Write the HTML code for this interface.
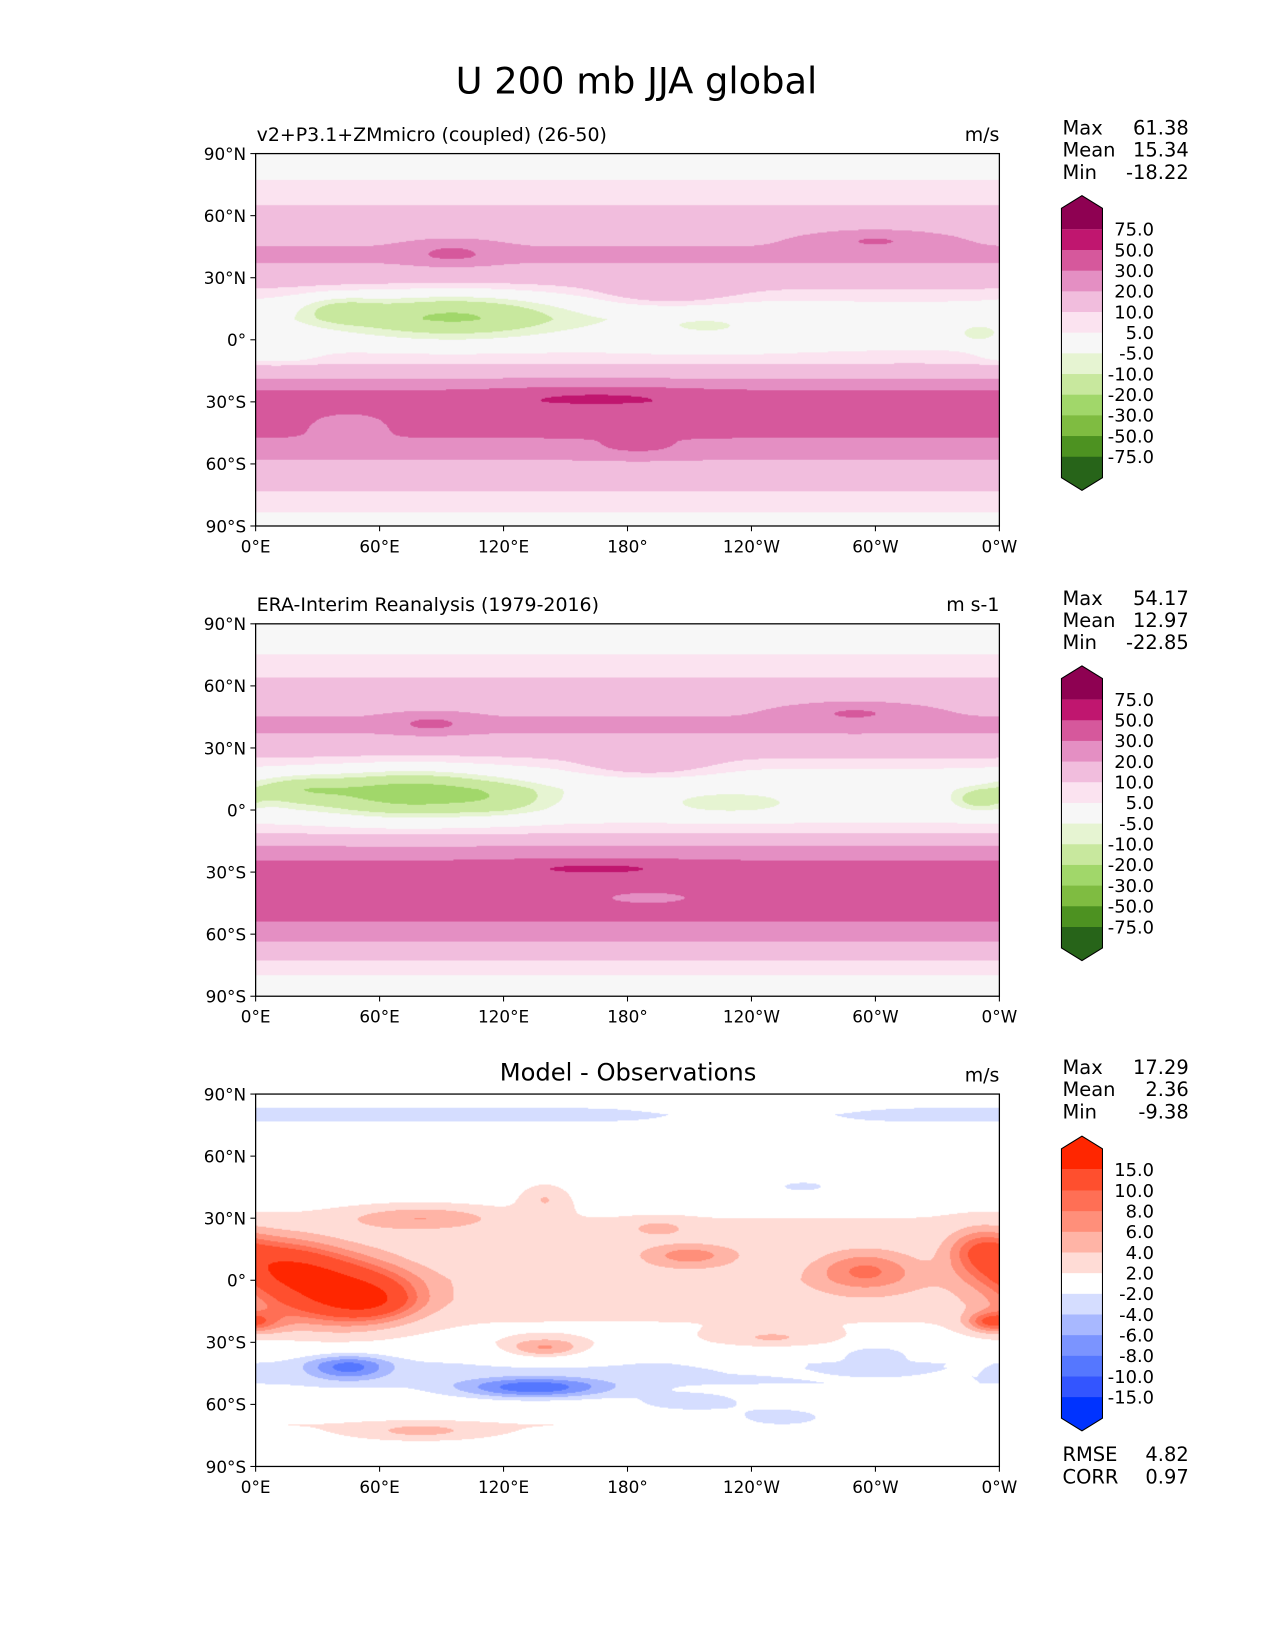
<!DOCTYPE html>
<html><head><meta charset="utf-8">
<style>
html,body{margin:0;padding:0;background:#fff;}
body{width:1275px;height:1650px;overflow:hidden;position:relative;font-family:"DejaVu Sans","Liberation Sans",sans-serif;}
#root{position:absolute;left:0;top:0;width:1212px;height:1568px;transform:scale(1.05198);transform-origin:0 0;}
canvas{position:absolute;}
svg{position:absolute;left:0;top:0;}
</style></head>
<body>
<div id="root">
<canvas id="c1" width="707" height="354" style="left:243px;top:146px"></canvas>
<canvas id="c2" width="707" height="354" style="left:243px;top:593px"></canvas>
<canvas id="c3" width="707" height="354" style="left:243px;top:1040px"></canvas>
<svg id="ov" width="1212" height="1568" font-family="DejaVu Sans, Liberation Sans, sans-serif">
<text x="605" y="89" font-size="35" text-anchor="middle">U 200 mb JJA global</text>
<text x="244" y="134" font-size="18">v2+P3.1+ZMmicro (coupled) (26-50)</text>
<text x="950" y="134" font-size="18" text-anchor="end">m/s</text>
<text x="244" y="581" font-size="18">ERA-Interim Reanalysis (1979-2016)</text>
<text x="950" y="581" font-size="18" text-anchor="end">m s-1</text>
<text x="597" y="1027" font-size="23" text-anchor="middle">Model - Observations</text>
<text x="950" y="1028" font-size="18" text-anchor="end">m/s</text>
<g font-size="18.5">
<text x="1010" y="128">Max</text><text x="1130" y="128" text-anchor="end">61.38</text>
<text x="1010" y="149">Mean</text><text x="1130" y="149" text-anchor="end">15.34</text>
<text x="1010" y="170">Min</text><text x="1130" y="170" text-anchor="end">-18.22</text></g>
<g font-size="18.5">
<text x="1010" y="575">Max</text><text x="1130" y="575" text-anchor="end">54.17</text>
<text x="1010" y="596">Mean</text><text x="1130" y="596" text-anchor="end">12.97</text>
<text x="1010" y="617">Min</text><text x="1130" y="617" text-anchor="end">-22.85</text></g>
<g font-size="18.5">
<text x="1010" y="1021">Max</text><text x="1130" y="1021" text-anchor="end">17.29</text>
<text x="1010" y="1042">Mean</text><text x="1130" y="1042" text-anchor="end">2.36</text>
<text x="1010" y="1063">Min</text><text x="1130" y="1063" text-anchor="end">-9.38</text>
<text x="1010" y="1389">RMSE</text><text x="1130" y="1389" text-anchor="end">4.82</text>
<text x="1010" y="1410">CORR</text><text x="1130" y="1410" text-anchor="end">0.97</text></g>
</svg>
</div>
<script>
// ---- data ----
const profLats=[90,80,70,60,50,40,30,20,10,0,-10,-20,-30,-40,-50,-60,-70,-80,-90];
const prof1=[2,4,8,12,18,22,15,6,0,2,8,22,40,36,28,18,12,6,3];
const prof2=[1,3,7,12,18,22,15,5,-2,0,8,24,38,38,34,24,12,5,2];
const prof3=[0,-3,0,1,0,1,2,2,2,3,3,2,1,-2,-2,0,2,1,0];
// blobs: lon, lat, amplitude, lon-radius, lat-radius
const b1Lon=[95,200,300,95,40,220,350,165,45,185,10];
const b1Lat=[42,23,48,12,15,5,3,-28,-40,-53,-8];
const b1Amp=[12,10,12,-22,-10,-6,-10,18,-12,6,-5];
const b1Rx=[20,30,30,55,20,50,10,45,20,25,20];
const b1Ry=[5,6,5,11,7,10,4,4,6,4,4];
const b2Lon=[85,190,290,75,20,230,350,165,190,120];
const b2Lat=[42,22,47,8,10,3,5,-28,-42,5];
const b2Amp=[12,10,12,-24,-12,-8,-12,20,-10,-8];
const b2Rx=[18,30,30,45,25,30,12,40,30,25];
const b2Ry=[4,6,5,11,7,5,5,3,4,8];
const b3Lon=[40,55,5,0,80,140,195,210,295,350,355,140,250,45,135,210,255,300,265,240,80,20];
const b3Lat=[-5,-10,10,-20,30,40,25,12,5,15,-20,-33,-28,-42,-52,-60,-67,-35,45,82,-73,5];
const b3Amp=[12,6,6,5,4,3,3,5,6,5,4,6,3,-7,-8,-3,-5,-3,-3,3,3,5];
const b3Rx=[35,20,25,15,35,12,15,25,25,15,10,20,30,20,35,30,25,15,20,40,30,25];
const b3Ry=[16,8,12,6,6,8,4,6,10,10,4,5,5,6,5,5,5,4,4,6,4,12];
const lvA=[-75,-50,-30,-20,-10,-5,5,10,20,30,50,75];
const colA=['#276419','#4d9221','#7fbc41','#a1d76a','#c8e89e','#e6f4d2','#f7f7f7','#fbe3f0','#f1bddd','#e48fc3','#d6589c','#c0166f','#8e0152'];
const lvD=[-15,-10,-8,-6,-4,-2,2,4,6,8,10,15];
const colD=['#0033ff','#3355ff','#5577ff','#7b94ff','#a8b8ff','#d5ddff','#ffffff','#ffdcd6','#ffb4a6','#ff8f7a','#ff6f55','#ff4f2e','#ff2600'];
const xTicks=['0°E','60°E','120°E','180°','120°W','60°W','0°W'];
const yTicks=['90°N','60°N','30°N','0°','30°S','60°S','90°S'];

// ---- axis functions ----
const MW=707,MH=354;
const xOf=lon=>lon/360*MW, yOf=lat=>(90-lat)/180*MH;
function profAt(p,lat){for(let i=0;i<profLats.length-1;i++){if(lat<=profLats[i]&&lat>=profLats[i+1]){const t=(profLats[i]-lat)/10;return p[i]*(1-t)+p[i+1]*t;}}return p[p.length-1];}
function field(p,L,A,M,R,Y,lon,lat){let v=profAt(p,lat);for(let k=0;k<L.length;k++){let d=lon-L[k];if(d>180)d-=360;if(d<-180)d+=360;const e=(d/R[k])**2+((lat-A[k])/Y[k])**2;if(e<9)v+=M[k]*Math.exp(-e);}return v;}
function hex(c){return [parseInt(c.substr(1,2),16),parseInt(c.substr(3,2),16),parseInt(c.substr(5,2),16)];}
function drawMap(id,p,L,A,M,R,Y,lv,col){
  const cv=document.getElementById(id),ctx=cv.getContext('2d'),img=ctx.createImageData(MW,MH);const rgb=col.map(hex);
  for(let py=0;py<MH;py++){const lat=90-(py+0.5)/MH*180;for(let px=0;px<MW;px++){const lon=(px+0.5)/MW*360;const v=field(p,L,A,M,R,Y,lon,lat);let i=0;while(i<lv.length&&v>=lv[i])i++;const c=rgb[i],o=(py*MW+px)*4;img.data[o]=c[0];img.data[o+1]=c[1];img.data[o+2]=c[2];img.data[o+3]=255;}}
  ctx.putImageData(img,0,0);
}
drawMap('c1',prof1,b1Lon,b1Lat,b1Amp,b1Rx,b1Ry,lvA,colA);
drawMap('c2',prof2,b2Lon,b2Lat,b2Amp,b2Rx,b2Ry,lvA,colA);
drawMap('c3',prof3,b3Lon,b3Lat,b3Amp,b3Rx,b3Ry,lvD,colD);

const NS='http://www.w3.org/2000/svg',ov=document.getElementById('ov');
function mk(tag,at,parent){const e=document.createElementNS(NS,tag);for(const k in at)e.setAttribute(k,at[k]);(parent||ov).appendChild(e);return e;}
const tops=[146,593,1040];
tops.forEach((t,pi)=>{
  const g=mk('g',{});
  
  
  const fr=mk('rect',{x:243,y:t,width:MW,height:MH,fill:'none',stroke:'#000','stroke-width':1.2},g);
  
  
  xTicks.forEach((s,i)=>{const x=243+xOf(i*60);
    mk('line',{x1:x,x2:x,y1:t+MH,y2:t+MH+5,stroke:'#000'},g);
    const tx=mk('text',{x:x,y:t+MH+25,'font-size':16,'text-anchor':'middle'},g);tx.textContent=s;
    
    });
  yTicks.forEach((s,i)=>{const y=t+yOf(90-i*30);
    mk('line',{x1:238,x2:243,y1:y,y2:y,stroke:'#000'},g);
    const tx=mk('text',{x:234,y:y+6,'font-size':16,'text-anchor':'end'},g);tx.textContent=s;
    
    });
});
// colorbars
function colorbar(top,lv,col,labels,idx){
  const g=mk('g',{});
  
  
  const x0=1009,w=39,step=19.65,first=top+32,n=lv.length;
  const last=first+(n-1)*step;
  mk('polygon',{points:`${x0},${first} ${x0},${top+12} ${x0+w/2},${top} ${x0+w},${top+12} ${x0+w},${first}`,fill:col[col.length-1]},g);
  for(let i=0;i<n-1;i++){mk('rect',{x:x0,y:first+i*step,width:w,height:step+0.5,fill:col[col.length-2-i]},g);}
  mk('polygon',{points:`${x0},${last} ${x0},${last+20} ${x0+w/2},${last+32} ${x0+w},${last+20} ${x0+w},${last}`,fill:col[0]},g);
  mk('polygon',{points:`${x0},${last+20} ${x0},${top+12} ${x0+w/2},${top} ${x0+w},${top+12} ${x0+w},${last+20} ${x0+w/2},${last+32}`,fill:'none',stroke:'#000','stroke-width':1},g);
  for(let i=0;i<n;i++){const t=mk('text',{x:1097,y:first+i*step+6,'font-size':17,'text-anchor':'end'},g);t.textContent=labels[n-1-i];
    
    }
}
const labA=lvA.map(v=>v.toFixed(1)), labD=lvD.map(v=>v.toFixed(1));
colorbar(186,lvA,colA,labA,1);
colorbar(633,lvA,colA,labA,2);
colorbar(1080,lvD,colD,labD,3);
</script>
</body></html>
